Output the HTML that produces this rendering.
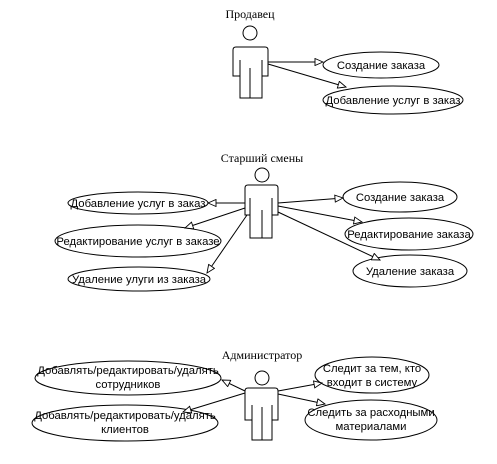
<!DOCTYPE html>
<html><head><meta charset="utf-8"><style>html,body{margin:0;padding:0;background:#fff}svg{display:block}</style></head><body>
<svg width="497" height="464" viewBox="0 0 497 464" xmlns="http://www.w3.org/2000/svg">
<defs>
<marker id="a" markerWidth="10" markerHeight="8" refX="9" refY="4" orient="auto" markerUnits="userSpaceOnUse">
<path d="M1,0.5 L9,4 L1,7.5 Z" fill="#fff" stroke="#000" stroke-width="0.9"/>
</marker>
</defs>
<g fill="none" stroke="#000" stroke-width="1">
<circle cx="250" cy="33" r="7" fill="#fff"/>
<path d="M236,47 H265 Q268,47 268,50 V76 H262 V98 H240 V76 H233 V50 Q233,47 236,47 Z" fill="#fff"/>
<path d="M240,60 V76 M262,60 V76 M250,68 V98"/>
<circle cx="262" cy="175" r="7" fill="#fff"/>
<path d="M248,185 H275 Q278,185 278,188 V215 H272 V238 H250 V215 H245 V188 Q245,185 248,185 Z" fill="#fff"/>
<path d="M250,198 V215 M272,198 V215 M262,210 V238"/>
<circle cx="262" cy="378" r="7" fill="#fff"/>
<path d="M248,388 H275 Q278,388 278,391 V420 H272 V440 H252 V420 H245 V391 Q245,388 248,388 Z" fill="#fff"/>
<path d="M252,405 V420 M272,405 V420 M262,407 V440"/>
<ellipse cx="381" cy="65" rx="58" ry="13"/>
<ellipse cx="393" cy="100" rx="70" ry="14"/>
<ellipse cx="138" cy="203" rx="70" ry="11"/>
<ellipse cx="138" cy="241" rx="83" ry="16"/>
<ellipse cx="139" cy="279" rx="71" ry="12"/>
<ellipse cx="400" cy="197" rx="57" ry="15"/>
<ellipse cx="409" cy="234" rx="64" ry="16"/>
<ellipse cx="410" cy="271" rx="57" ry="16"/>
<ellipse cx="128" cy="378" rx="93" ry="17"/>
<ellipse cx="125" cy="423" rx="93" ry="18"/>
<ellipse cx="372" cy="375" rx="57" ry="18"/>
<ellipse cx="371" cy="420" rx="66" ry="20"/>
<g marker-end="url(#a)">
<line x1="268" y1="62" x2="323" y2="62"/>
<line x1="268" y1="64" x2="346" y2="87"/>
<line x1="245" y1="203" x2="208" y2="203"/>
<line x1="245" y1="208" x2="185" y2="228"/>
<line x1="247" y1="215" x2="207" y2="273"/>
<line x1="278" y1="203" x2="343" y2="198"/>
<line x1="278" y1="206" x2="362" y2="222"/>
<line x1="278" y1="212" x2="380" y2="260"/>
<line x1="245" y1="391" x2="222" y2="380"/>
<line x1="245" y1="393" x2="183" y2="412"/>
<line x1="278" y1="391" x2="322" y2="383"/>
<line x1="278" y1="394" x2="325" y2="404"/>
</g>
</g>
<g font-family="Liberation Serif, serif" font-size="12" text-anchor="middle" fill="#000">
<text x="250" y="18">Продавец</text>
<text x="262" y="162">Старший смены</text>
<text x="262" y="359">Администратор</text>
</g>
<g font-family="Liberation Sans, sans-serif" font-size="11.3" text-anchor="middle" fill="#000">
<text x="381" y="69">Создание заказа</text>
<text x="393" y="104">Добавление услуг в заказ</text>
<text x="138" y="207">Добавление услуг в заказ</text>
<text x="138" y="245">Редактирование услуг в заказе</text>
<text x="139" y="283">Удаление улуги из заказа</text>
<text x="400" y="201">Создание заказа</text>
<text x="409" y="238">Редактирование заказа</text>
<text x="410" y="275">Удаление заказа</text>
<text x="128" y="374">Добавлять/редактировать/удалять</text>
<text x="128" y="388">сотрудников</text>
<text x="125" y="419">Добавлять/редактировать/удалять</text>
<text x="125" y="433">клиентов</text>
<text x="372" y="372">Следит за тем, кто</text>
<text x="372" y="386">входит в систему</text>
<text x="371" y="416">Следить за расходными</text>
<text x="371" y="430">материалами</text>
</g>
</svg>
</body></html>
